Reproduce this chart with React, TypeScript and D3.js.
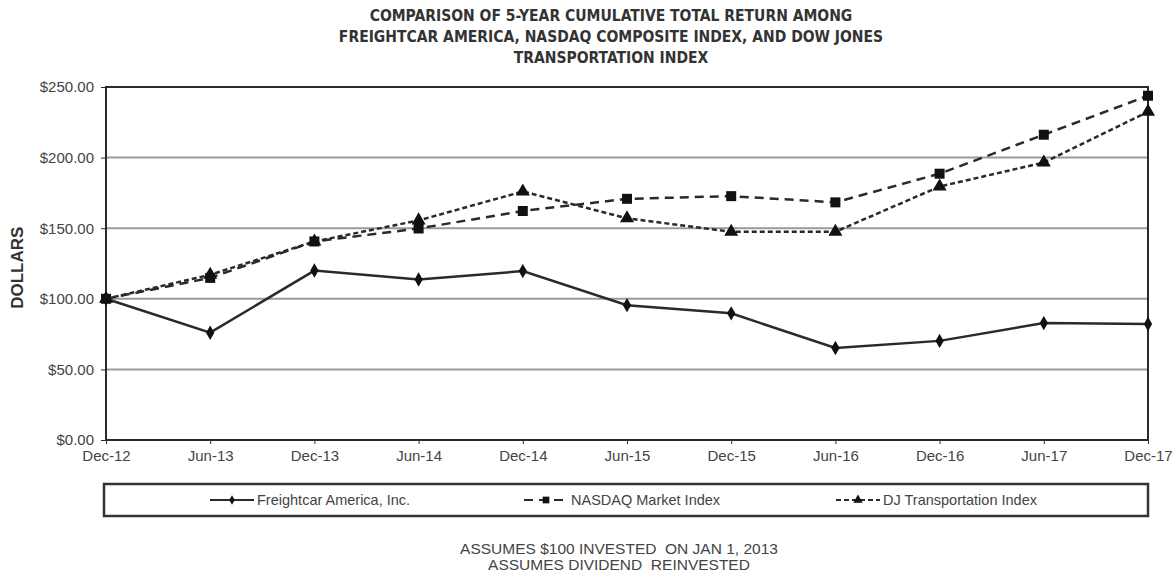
import React, { useEffect, useRef } from 'react';
import * as d3 from 'd3';

const periods = ['Dec-12', 'Jun-13', 'Dec-13', 'Jun-14', 'Dec-14', 'Jun-15', 'Dec-15', 'Jun-16', 'Dec-16', 'Jun-17', 'Dec-17'];
const freightcar = [100, 76, 120, 113.7, 119.6, 95.5, 89.7, 65.2, 70.2, 82.8, 82.1];
const nasdaq = [100, 114.8, 140.6, 149.8, 162.2, 170.8, 172.7, 168.3, 188.6, 216.2, 243.8];
const djTransport = [100, 117, 140.6, 155.5, 176, 157, 147.5, 147.5, 179.5, 196.5, 232.5];
const yTicks = [0, 50, 100, 150, 200, 250];
const titleLines = [
  'COMPARISON OF 5-YEAR CUMULATIVE TOTAL RETURN AMONG',
  'FREIGHTCAR AMERICA, NASDAQ COMPOSITE INDEX, AND DOW JONES',
  'TRANSPORTATION INDEX',
];
const footnotes = ['ASSUMES $100 INVESTED  ON JAN 1, 2013', 'ASSUMES DIVIDEND  REINVESTED'];

const App: React.FC = () => {
  const chartRef = useRef<SVGSVGElement | null>(null);

  useEffect(() => {
    document.body.style.margin = '0';
    if (chartRef.current) drawChart();
  }, []);

  const drawChart = () => {
    const svg = d3.select(chartRef.current);
    svg.selectAll('*').remove();

    const width = 1176;
    const height = 582;
    const margin = { top: 87, right: 28, bottom: 142, left: 106 };
    const textFont = '"Liberation Sans", Arial, sans-serif';
    const ink = '#2a2a2a';

    svg.append('rect').attr('width', width).attr('height', height).attr('fill', '#fff');

    const x = d3.scalePoint<string>()
      .domain(periods)
      .range([margin.left, width - margin.right]);

    const y = d3.scaleLinear()
      .domain([0, 250])
      .range([height - margin.bottom, margin.top]);

    // title
    svg.append('g')
      .selectAll('text')
      .data(titleLines)
      .enter().append('text')
      .attr('x', 611)
      .attr('y', (_, i) => 21 + i * 21)
      .attr('text-anchor', 'middle')
      .attr('font-family', '"Liberation Sans Narrow", "DejaVu Sans Condensed", sans-serif')
      .attr('font-weight', 'bold')
      .attr('font-size', 15.5)
      .attr('fill', '#333')
      .text(d => d);

    // gridlines
    svg.append('g')
      .selectAll('line')
      .data(yTicks.filter(t => t > 0 && t < 250))
      .enter().append('line')
      .attr('x1', margin.left)
      .attr('x2', width - margin.right)
      .attr('y1', d => y(d))
      .attr('y2', d => y(d))
      .attr('stroke', '#9a9a9a')
      .attr('stroke-width', 2);

    // frame
    svg.append('rect')
      .attr('x', margin.left)
      .attr('y', margin.top)
      .attr('width', width - margin.right - margin.left)
      .attr('height', height - margin.bottom - margin.top)
      .attr('fill', 'none')
      .attr('stroke', ink)
      .attr('stroke-width', 2);

    // y axis
    const yAxis = svg.append('g')
      .attr('transform', `translate(${margin.left},0)`)
      .call(d3.axisLeft(y).tickValues(yTicks).tickSize(5).tickFormat(d => `$${(+d).toFixed(2)}`));
    yAxis.select('.domain').remove();
    yAxis.selectAll('line').attr('stroke', ink);
    yAxis.selectAll('text')
      .attr('font-family', textFont)
      .attr('font-size', 15)
      .attr('fill', '#444')
      .attr('dx', -4);

    // x axis
    const xAxis = svg.append('g')
      .attr('transform', `translate(0,${height - margin.bottom})`)
      .call(d3.axisBottom(x).tickSize(4));
    xAxis.select('.domain').remove();
    xAxis.selectAll('line').attr('stroke', ink);
    xAxis.selectAll('text')
      .attr('font-family', textFont)
      .attr('font-size', 15)
      .attr('fill', '#444')
      .attr('dy', '0.95em');

    svg.append('text')
      .attr('transform', `translate(23,${y(122)}) rotate(-90)`)
      .attr('text-anchor', 'middle')
      .attr('font-family', textFont)
      .attr('font-weight', 'bold')
      .attr('font-size', 17)
      .attr('fill', '#333')
      .text('DOLLARS');

    const series = [
      { name: 'Freightcar America, Inc.', values: freightcar, dash: null, shape: d3.symbolDiamond, size: 60, legendX: 210 },
      { name: 'NASDAQ Market Index', values: nasdaq, dash: '9,6', shape: d3.symbolSquare, size: 100, legendX: 524 },
      { name: 'DJ Transportation Index', values: djTransport, dash: '5,3', shape: d3.symbolTriangle, size: 85, legendX: 836 },
    ];

    const line = d3.line<number>()
      .x((_, i) => x(periods[i]) || 0)
      .y(d => y(d));

    series.forEach(s => {
      svg.append('path')
        .datum(s.values)
        .attr('d', line)
        .attr('fill', 'none')
        .attr('stroke', ink)
        .attr('stroke-width', 2.5)
        .attr('stroke-dasharray', s.dash);

      svg.append('g')
        .selectAll('path')
        .data(s.values)
        .enter().append('path')
        .attr('transform', (d, i) => `translate(${x(periods[i])},${y(d)})`)
        .attr('d', d3.symbol().type(s.shape).size(s.size)())
        .attr('fill', '#111');
    });

    // legend
    const legendTop = 484;
    svg.append('rect')
      .attr('x', 104)
      .attr('y', legendTop)
      .attr('width', 1044)
      .attr('height', 32)
      .attr('fill', 'none')
      .attr('stroke', '#333')
      .attr('stroke-width', 2.5);

    series.forEach(s => {
      const g = svg.append('g').attr('transform', `translate(${s.legendX},${legendTop + 16})`);
      g.append('line')
        .attr('x1', 0)
        .attr('x2', 44)
        .attr('stroke', ink)
        .attr('stroke-width', 2)
        .attr('stroke-dasharray', s.dash);
      g.append('path')
        .attr('transform', 'translate(22,0)')
        .attr('d', d3.symbol().type(s.shape).size(s.size * 0.45)())
        .attr('fill', '#111');
      g.append('text')
        .attr('x', 47)
        .attr('dy', '0.35em')
        .attr('font-family', textFont)
        .attr('font-size', 14.5)
        .attr('fill', '#444')
        .text(s.name);
    });

    // footnotes
    svg.append('g')
      .selectAll('text')
      .data(footnotes)
      .enter().append('text')
      .attr('x', 619)
      .attr('y', (_, i) => 554 + i * 16)
      .attr('text-anchor', 'middle')
      .attr('font-family', textFont)
      .attr('font-size', 15.5)
      .attr('fill', '#444')
      .style('white-space', 'pre')
      .text(d => d);
  };

  return (
    <svg ref={chartRef} width={1176} height={582} style={{ display: 'block' }}></svg>
  );
};

export default App;
